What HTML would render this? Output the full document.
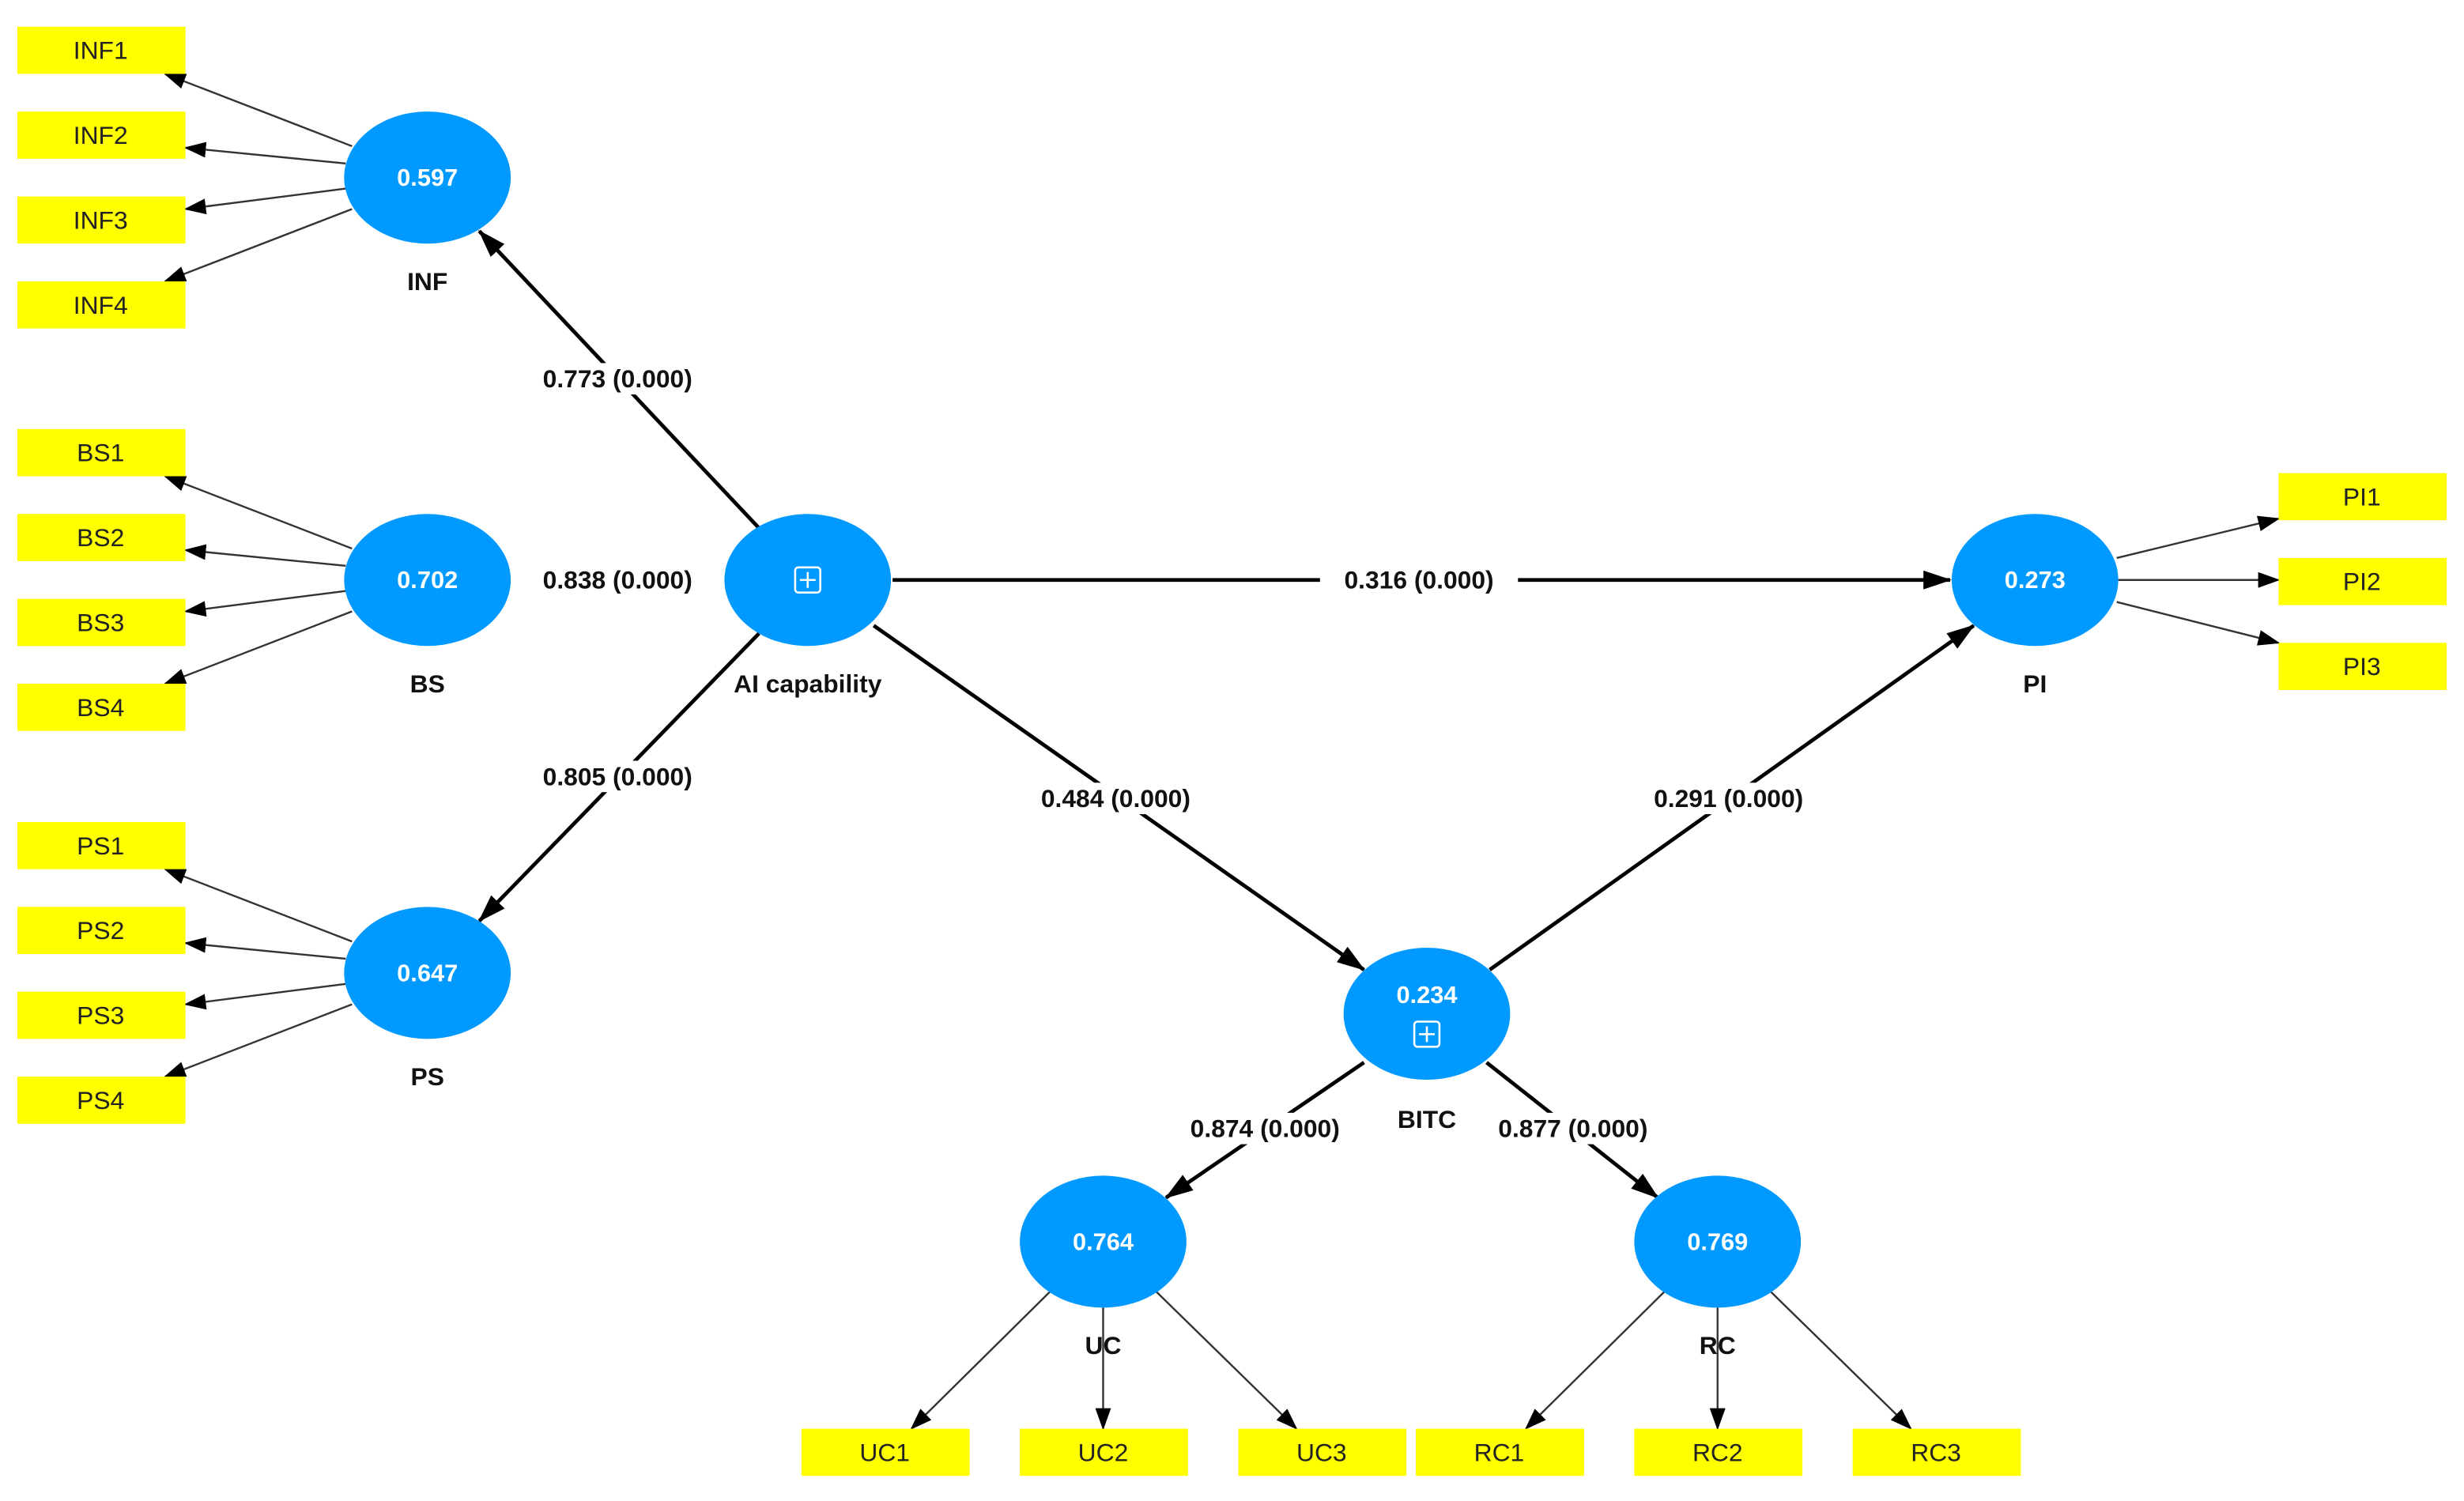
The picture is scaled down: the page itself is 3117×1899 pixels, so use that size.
<!DOCTYPE html>
<html><head><meta charset="utf-8"><style>
html,body{margin:0;padding:0;background:#fff;}
svg{display:block;}
text{font-family:"Liberation Sans",sans-serif;}
.b{fill:#ffff00;}
.bt{font-size:16px;fill:#222;text-anchor:middle;dominant-baseline:central;}
.c{fill:#0099ff;}
.ct{font-size:15.5px;fill:#fff;font-weight:bold;text-anchor:middle;dominant-baseline:central;}
.lt{font-size:16px;fill:#111;font-weight:bold;text-anchor:middle;dominant-baseline:central;}
.pl{font-size:16px;fill:#111;font-weight:bold;text-anchor:middle;dominant-baseline:central;}
.thin{stroke:#333;stroke-width:1.2;marker-end:url(#a1);fill:none;}
.thick{stroke:#000;stroke-width:2.4;marker-end:url(#a2);fill:none;}
</style></head><body>
<svg width="3117" height="1899" viewBox="0 0 1568 955" preserveAspectRatio="none" xmlns="http://www.w3.org/2000/svg">
<defs>
<marker id="a1" markerWidth="14" markerHeight="10" refX="13" refY="5" orient="auto" markerUnits="userSpaceOnUse"><path d="M0,0 L14,5 L0,10 z" fill="#000"/></marker>
<marker id="a2" markerWidth="18" markerHeight="12" refX="17" refY="6" orient="auto" markerUnits="userSpaceOnUse"><path d="M0,0 L18,6 L0,12 z" fill="#000"/></marker>
</defs>
<line class="thin" x1="224" y1="93" x2="105" y2="47"/>
<line class="thin" x1="220" y1="104" x2="118" y2="94"/>
<line class="thin" x1="220" y1="120" x2="118" y2="133"/>
<line class="thin" x1="224" y1="133" x2="105" y2="179"/>
<line class="thin" x1="224" y1="349" x2="105" y2="303"/>
<line class="thin" x1="220" y1="360" x2="118" y2="350"/>
<line class="thin" x1="220" y1="376" x2="118" y2="389"/>
<line class="thin" x1="224" y1="389" x2="105" y2="435"/>
<line class="thin" x1="224" y1="599" x2="105" y2="553"/>
<line class="thin" x1="220" y1="610" x2="118" y2="600"/>
<line class="thin" x1="220" y1="626" x2="118" y2="639"/>
<line class="thin" x1="224" y1="639" x2="105" y2="685"/>
<line class="thin" x1="1347" y1="355" x2="1450" y2="330"/>
<line class="thin" x1="1348" y1="369" x2="1450" y2="369"/>
<line class="thin" x1="1347" y1="383" x2="1450" y2="409"/>
<line class="thin" x1="668" y1="822" x2="580" y2="909"/>
<line class="thin" x1="702" y1="832" x2="702" y2="909"/>
<line class="thin" x1="736" y1="822" x2="825" y2="909"/>
<line class="thin" x1="1059" y1="822" x2="971" y2="909"/>
<line class="thin" x1="1093" y1="832" x2="1093" y2="909"/>
<line class="thin" x1="1127" y1="822" x2="1216" y2="909"/>
<line class="thick" x1="483" y1="336" x2="305" y2="147"/>
<line class="thick" x1="483" y1="403" x2="305" y2="586"/>
<line class="thick" x1="568" y1="369" x2="1241" y2="369"/>
<line class="thick" x1="556" y1="398" x2="868" y2="617"/>
<line class="thick" x1="948" y1="617" x2="1256" y2="398"/>
<line class="thick" x1="868" y1="676" x2="742" y2="762"/>
<line class="thick" x1="946" y1="676" x2="1055" y2="762"/>
<g>
<rect x="330" y="231" width="126" height="20" fill="#fff"/><text class="pl" x="393" y="241">0.773 (0.000)</text>
<rect x="330" y="359" width="126" height="20" fill="#fff"/><text class="pl" x="393" y="369">0.838 (0.000)</text>
<rect x="330" y="484" width="126" height="20" fill="#fff"/><text class="pl" x="393" y="494">0.805 (0.000)</text>
<rect x="840" y="359" width="126" height="20" fill="#fff"/><text class="pl" x="903" y="369">0.316 (0.000)</text>
<rect x="647" y="498" width="126" height="20" fill="#fff"/><text class="pl" x="710" y="508">0.484 (0.000)</text>
<rect x="1037" y="498" width="126" height="20" fill="#fff"/><text class="pl" x="1100" y="508">0.291 (0.000)</text>
<rect x="742" y="708" width="126" height="20" fill="#fff"/><text class="pl" x="805" y="718">0.874 (0.000)</text>
<rect x="938" y="708" width="126" height="20" fill="#fff"/><text class="pl" x="1001" y="718">0.877 (0.000)</text>
</g>
<ellipse class="c" cx="272" cy="113" rx="53" ry="42"/><text class="ct" x="272" y="113">0.597</text>
<ellipse class="c" cx="272" cy="369" rx="53" ry="42"/><text class="ct" x="272" y="369">0.702</text>
<ellipse class="c" cx="272" cy="619" rx="53" ry="42"/><text class="ct" x="272" y="619">0.647</text>
<ellipse class="c" cx="514" cy="369" rx="53" ry="42"/>
<rect x="506" y="361" width="16" height="16" rx="2" fill="none" stroke="#fff" stroke-width="1.3"/><path d="M514,364 V374 M509,369 H519" stroke="#fff" stroke-width="1.3"/>
<ellipse class="c" cx="1295" cy="369" rx="53" ry="42"/><text class="ct" x="1295" y="369">0.273</text>
<ellipse class="c" cx="908" cy="645" rx="53" ry="42"/><text class="ct" x="908" y="633">0.234</text>
<rect x="900" y="650" width="16" height="16" rx="2" fill="none" stroke="#fff" stroke-width="1.3"/><path d="M908,653 V663 M903,658 H913" stroke="#fff" stroke-width="1.3"/>
<ellipse class="c" cx="702" cy="790" rx="53" ry="42"/><text class="ct" x="702" y="790">0.764</text>
<ellipse class="c" cx="1093" cy="790" rx="53" ry="42"/><text class="ct" x="1093" y="790">0.769</text>
<text class="lt" x="272" y="179">INF</text>
<text class="lt" x="272" y="435">BS</text>
<text class="lt" x="272" y="685">PS</text>
<text class="lt" x="514" y="435">AI capability</text>
<text class="lt" x="1295" y="435">PI</text>
<text class="lt" x="908" y="712">BITC</text>
<text class="lt" x="702" y="856">UC</text>
<text class="lt" x="1093" y="856">RC</text>
<g>
<rect class="b" x="11" y="17" width="107" height="30"/><text class="bt" x="64" y="32">INF1</text>
<rect class="b" x="11" y="71" width="107" height="30"/><text class="bt" x="64" y="86">INF2</text>
<rect class="b" x="11" y="125" width="107" height="30"/><text class="bt" x="64" y="140">INF3</text>
<rect class="b" x="11" y="179" width="107" height="30"/><text class="bt" x="64" y="194">INF4</text>
<rect class="b" x="11" y="273" width="107" height="30"/><text class="bt" x="64" y="288">BS1</text>
<rect class="b" x="11" y="327" width="107" height="30"/><text class="bt" x="64" y="342">BS2</text>
<rect class="b" x="11" y="381" width="107" height="30"/><text class="bt" x="64" y="396">BS3</text>
<rect class="b" x="11" y="435" width="107" height="30"/><text class="bt" x="64" y="450">BS4</text>
<rect class="b" x="11" y="523" width="107" height="30"/><text class="bt" x="64" y="538">PS1</text>
<rect class="b" x="11" y="577" width="107" height="30"/><text class="bt" x="64" y="592">PS2</text>
<rect class="b" x="11" y="631" width="107" height="30"/><text class="bt" x="64" y="646">PS3</text>
<rect class="b" x="11" y="685" width="107" height="30"/><text class="bt" x="64" y="700">PS4</text>
<rect class="b" x="1450" y="301" width="107" height="30"/><text class="bt" x="1503" y="316">PI1</text>
<rect class="b" x="1450" y="355" width="107" height="30"/><text class="bt" x="1503" y="370">PI2</text>
<rect class="b" x="1450" y="409" width="107" height="30"/><text class="bt" x="1503" y="424">PI3</text>
<rect class="b" x="510" y="909" width="107" height="30"/><text class="bt" x="563" y="924">UC1</text>
<rect class="b" x="649" y="909" width="107" height="30"/><text class="bt" x="702" y="924">UC2</text>
<rect class="b" x="788" y="909" width="107" height="30"/><text class="bt" x="841" y="924">UC3</text>
<rect class="b" x="901" y="909" width="107" height="30"/><text class="bt" x="954" y="924">RC1</text>
<rect class="b" x="1040" y="909" width="107" height="30"/><text class="bt" x="1093" y="924">RC2</text>
<rect class="b" x="1179" y="909" width="107" height="30"/><text class="bt" x="1232" y="924">RC3</text>
</g>
</svg>
</body></html>
